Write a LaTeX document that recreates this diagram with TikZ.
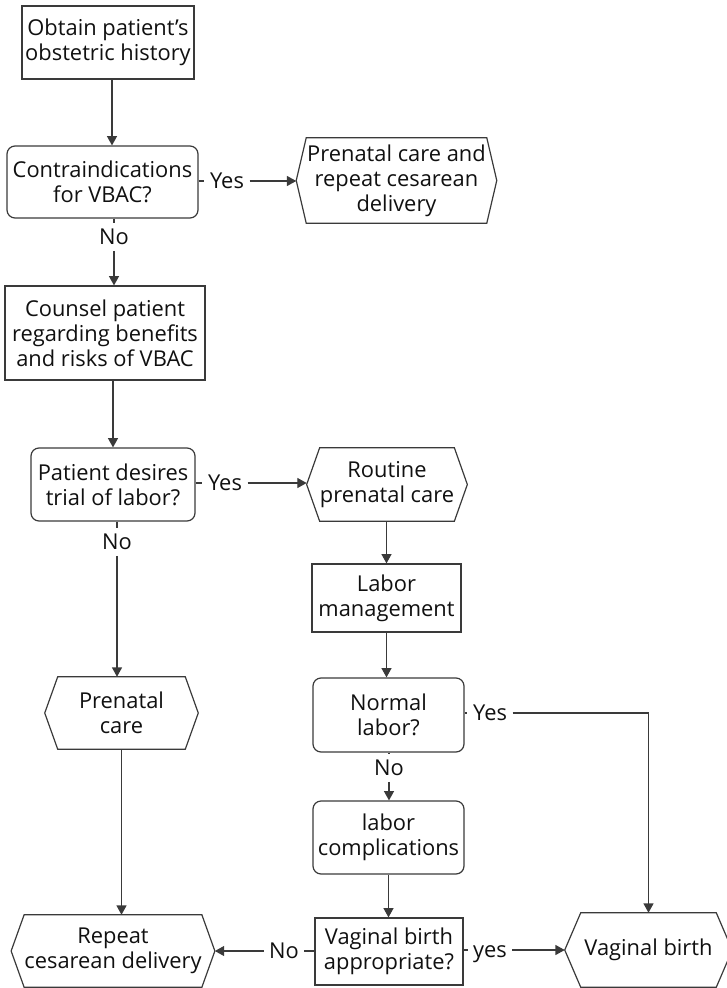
\documentclass[tikz,border=0pt]{standalone}
\usepackage{fontspec}
\setmainfont{Open Sans}
\usetikzlibrary{arrows.meta}
\definecolor{linec}{HTML}{3A3A3A}
\definecolor{textc}{HTML}{101010}
\begin{document}
\begin{tikzpicture}[x=0.75pt,y=-0.75pt,
  every node/.style={font=\fontsize{16.4}{18.75}\selectfont, text=textc, align=center},
  box/.style={draw=linec, line width=0.9pt, inner sep=0pt,
    minimum width={#1*0.75pt}},
  rbox/.style={box=#1, rounded corners=6pt},
  hexa/.style={inner sep=0pt, minimum width={#1*0.75pt}},
  ht/.style={minimum height={#1*0.75pt}},
  line/.style={draw=linec, line width=0.9pt},
  arr/.style={line, -{Triangle[length=7pt,width=7.5pt]}},
  lbl/.style={inner xsep=4pt, inner ysep=4.5pt, text height=11.5pt, text depth=0pt}
]
\useasboundingbox (0,0) rectangle (726,988);

% process boxes and decisions
\node[box=172, ht=73]  (obtain)  at (108,42.5)  {Obtain patient’s\\obstetric history};
\node[rbox=191, ht=72] (contra)  at (102.5,182) {Contraindications\\for VBAC?};
\node[hexa=180, ht=85] (repcs)   at (396.5,180.5) {Prenatal care and\\repeat cesarean\\delivery};
\node[box=200, ht=94]  (counsel) at (105,333)   {Counsel patient\\regarding benefits\\and risks of VBAC};
\node[rbox=164, ht=73] (desires) at (113,484.5) {Patient desires\\trial of labor?};
\node[hexa=132, ht=73] (routine) at (387,484.5) {Routine\\prenatal care};
\node[box=149, ht=68]  (labman)  at (386.5,598) {Labor\\management};
\node[hexa=127, ht=72] (prenat)  at (121.5,713) {Prenatal\\care};
\node[rbox=151, ht=74] (normal)  at (388.5,715) {Normal\\labor?};
\node[rbox=151, ht=73] (compl)   at (388.5,837.5) {labor\\complications};
\node[box=148, ht=67]  (approp)  at (389,951.5) {Vaginal birth\\appropriate?};
\node[hexa=162, ht=72] (repeat)  at (113,951)   {Repeat\\cesarean delivery};
\node[hexa=135, ht=74] (vbirth)  at (648.5,950) {Vaginal birth};

% hexagonal outlines for the terminal steps
\foreach \n/\t in {repcs/10, routine/13, prenat/13, repeat/13, vbirth/16}{
  \draw[line] (\n.north west) -- (\n.north east) -- ([xshift=\t*0.75pt]\n.east)
    -- (\n.south east) -- (\n.south west) -- ([xshift=-\t*0.75pt]\n.west) -- cycle;
  \coordinate (\n-w) at ([xshift=-\t*0.75pt]\n.west);
  \coordinate (\n-e) at ([xshift=\t*0.75pt]\n.east);
}

% branch labels
\node[lbl] (yes1) at (227,181)   {Yes};
\node[lbl] (no1)  at (114,237)   {No};
\node[lbl] (yes2) at (225,483)   {Yes};
\node[lbl] (no2)  at (117,542)   {No};
\node[lbl] (yes3) at (490,713)   {Yes};
\node[lbl] (no3)  at (389,768)   {No};
\node[lbl] (no4)  at (284,951)   {No};
\node[lbl] (yes4) at (490,950)   {yes};

% connectors
\draw[arr] ([xshift=3pt]obtain.south) -- ([xshift=3pt]obtain.south |- contra.north);

\draw[line] (contra.east |- yes1) -- (yes1.west);
\draw[arr] (yes1.east) -- (yes1 -| repcs-w);

\draw[line] (contra.south -| no1) -- (no1.north);
\draw[arr] (no1.south) -- (no1 |- counsel.north);

\draw[arr] (counsel.south -| desires.north) -- (desires.north);

\draw[line] (desires.east |- yes2) -- (yes2.west);
\draw[arr] (yes2.east) -- (yes2 -| routine-w);

\draw[line] (desires.south -| no2) -- (no2.north);
\draw[arr] (no2.south) -- (no2 |- prenat.north);

\draw[arr] (routine.south -| labman.north) -- (labman.north);
\draw[arr] (labman.south) -- (labman.south |- normal.north);

\draw[line] (normal.east |- yes3) -- (yes3.west);
\draw[arr] (yes3.east) -| (vbirth.north);

\draw[line] (normal.south -| no3) -- (no3.north);
\draw[arr] (no3.south) -- (no3 |- compl.north);

\draw[arr] (compl.south) -- (compl.south |- approp.north);

\draw[arr] (prenat.south) -- (prenat.south |- repeat.north);

\draw[line] (approp.west |- no4) -- (no4.east);
\draw[arr] (no4.west) -- (no4 -| repeat-e);

\draw[line] (approp.east |- yes4) -- (yes4.west);
\draw[arr] (yes4.east) -- (yes4 -| vbirth-w);
\end{tikzpicture}
\end{document}
